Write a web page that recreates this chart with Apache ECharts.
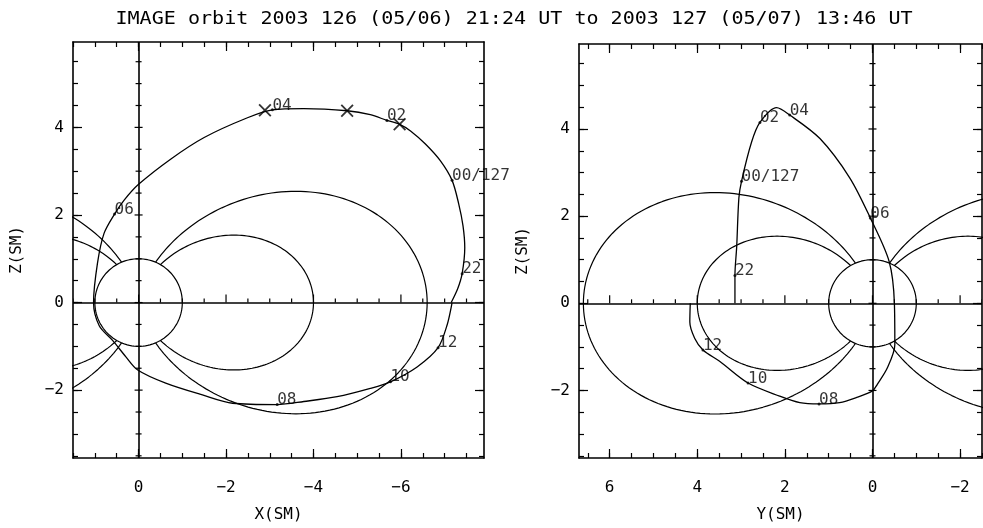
<!DOCTYPE html>
<html>
<head>
<meta charset="utf-8">
<title>IMAGE orbit</title>
<style>
  html, body { margin: 0; padding: 0; background: #fff; }
  #chart { width: 983px; height: 528px; }
</style>
</head>
<body>
<div id="chart"></div>
<script src="https://cdn.jsdelivr.net/npm/echarts@6/dist/echarts.min.js"></script>
<script>
// tick labels
var xTickLabels = [0, -2, -4, -6];
var yTickLabels = [6, 4, 2, 0, -2];
var zTickLabels = [-2, 0, 2, 4];

// dipole field line shells (L, in Earth radii)
var fieldShells = [4, 6.6];

// hour marks along the orbit
var hourLabels = ['22', '00/127', '02', '04', '06', '08', '10', '12'];
var hourXZ = [[-7.40, 0.66], [-7.17, 2.79], [-5.68, 4.16], [-3.06, 4.40],
              [0.55, 2.02], [-3.17, -2.33], [-5.76, -1.81], [-6.85, -1.03]];
var hourYZ = [[3.14, 0.64], [2.99, 2.80], [2.57, 4.15], [1.89, 4.32],
              [0.05, 1.96], [1.22, -2.31], [2.84, -1.83], [3.87, -1.07]];

// orbit track, 21:24 UT day 126 -> 13:46 UT day 127
var orbitXZ = [
  [-7.15, 0.00], [-7.30, 0.32], [-7.40, 0.66], [-7.46, 1.25], [-7.42, 1.75],
  [-7.32, 2.26], [-7.17, 2.79], [-6.90, 3.24], [-6.56, 3.62], [-6.22, 3.92],
  [-5.97, 4.07], [-5.68, 4.16], [-5.30, 4.29], [-4.77, 4.38], [-3.78, 4.43],
  [-3.06, 4.40], [-2.49, 4.22], [-1.50, 3.77], [-0.74, 3.28], [0.00, 2.70],
  [0.33, 2.34], [0.55, 2.02], [0.79, 1.58], [0.94, 0.90], [1.03, 0.00],
  [0.90, -0.53], [0.59, -0.87], [0.29, -1.24], [0.02, -1.54], [-0.62, -1.84],
  [-1.46, -2.11], [-2.15, -2.30], [-3.17, -2.33], [-3.78, -2.26], [-4.54, -2.15],
  [-5.30, -1.96], [-5.76, -1.81], [-6.37, -1.47], [-6.85, -1.03], [-7.06, -0.50],
  [-7.17, 0.00]
];
var orbitYZ = [
  [3.14, 0.00], [3.14, 0.64], [3.10, 1.30], [3.05, 2.42], [2.99, 2.80],
  [2.76, 3.70], [2.57, 4.15], [2.19, 4.49], [1.89, 4.32], [1.20, 3.78],
  [0.52, 2.88], [0.05, 1.96], [-0.38, 0.96], [-0.50, 0.00], [-0.51, -0.95],
  [-0.34, -1.48], [-0.11, -1.86], [0.00, -2.01], [0.36, -2.16], [0.75, -2.28],
  [1.22, -2.31], [1.66, -2.28], [2.12, -2.13], [2.84, -1.83], [3.49, -1.33],
  [3.87, -1.07], [4.06, -0.80], [4.17, -0.43], [4.16, 0.00]
];

// image markers (X-Z view only)
var markerXZ = [[-2.89, 4.39], [-4.77, 4.38], [-5.97, 4.07]];

var FONT = 'DejaVu Sans Mono';
var INK = '#000';

function steps(a, b, s) {
  var out = [];
  for (var v = a; v <= b + 1e-9; v += s) out.push(Math.round(v * 100) / 100);
  return out;
}
function minus(v) { return String(v).replace('-', '\u2212'); }

// dipole line r = L cos^2(lat), from footpoint to footpoint
function fieldLine(L, side) {
  var lat0 = Math.acos(Math.sqrt(1 / L));
  var pts = [];
  for (var i = 0; i <= 160; i++) {
    var lat = -lat0 + 2 * lat0 * i / 160;
    var c = Math.cos(lat), r = L * c * c;
    pts.push([side * r * c, r * Math.sin(lat)]);
  }
  return pts;
}
function earth() {
  var pts = [];
  for (var i = 0; i <= 120; i++) {
    var a = 2 * Math.PI * i / 120;
    pts.push([Math.cos(a), Math.sin(a)]);
  }
  return pts;
}

var xAxes = [], yAxes = [], series = [];

// frame axes: bottom/left with labels, top/right; major + minor ticks
function addAxes(list, dim, grid, cfg) {
  var base = list.length;
  var near = dim === 'x' ? 'bottom' : 'left';
  var far = dim === 'x' ? 'top' : 'right';
  function ax(position, ticks, len, opt) {
    var a = {
      type: 'value', gridIndex: grid, min: cfg.min, max: cfg.max, inverse: cfg.inverse,
      position: position, splitLine: { show: false },
      axisLine: { show: !!opt.line, onZero: false, lineStyle: { color: INK, width: 1.6 } },
      axisTick: { show: true, inside: true, length: len, customValues: ticks,
                  lineStyle: { color: INK, width: 1.2 } },
      axisLabel: { show: false }
    };
    if (opt.labels) {
      a.axisLabel = { show: true, customValues: cfg.labels, formatter: minus,
                      margin: dim === 'x' ? 22 : 9, fontFamily: FONT, fontSize: 16, color: INK };
      a.name = cfg.name;
      a.nameLocation = 'middle';
      a.nameGap = cfg.nameGap;
      a.nameTextStyle = { fontFamily: FONT, fontSize: 16, color: INK };
    }
    return a;
  }
  list.push(ax(near, cfg.labels, 9, { line: true, labels: true }));
  list.push(ax(near, cfg.minor, 5, {}));
  list.push(ax(far, cfg.labels, 9, { line: true }));
  list.push(ax(far, cfg.minor, 5, {}));
  return base;
}

// lines through the origin with their own small ticks
function zeroTicks(xi, yi, hCfg, zCfg) {
  var hData = hCfg.minor.map(function (v) { return [v, 0, hCfg.labels.indexOf(v) >= 0 ? 8 : 4, 0]; });
  var vData = zCfg.minor.map(function (v) { return [0, v, zCfg.labels.indexOf(v) >= 0 ? 4 : 3, 1]; });
  series.push({
    type: 'custom', xAxisIndex: xi, yAxisIndex: yi, silent: true, clip: true,
    data: hData.concat(vData),
    renderItem: function (params, api) {
      var p = api.coord([api.value(0), api.value(1)]);
      var len = api.value(2);
      var shape = api.value(3) === 0
        ? { x1: p[0], y1: p[1], x2: p[0], y2: p[1] - len }
        : { x1: p[0] - len, y1: p[1], x2: p[0] + len, y2: p[1] };
      return { type: 'line', shape: shape, style: { stroke: INK, lineWidth: 1.2 } };
    },
    markLine: {
      symbol: 'none', silent: true, label: { show: false },
      lineStyle: { color: INK, width: 1.6, type: 'solid' },
      data: [{ xAxis: 0 }, { yAxis: 0 }]
    }
  });
}

function addPanel(grid, hCfg, orbit, hours, markers) {
  var xi = xAxes.length, yi = yAxes.length;
  var zCfg = { min: -3.55, max: 5.95, inverse: false, labels: zTickLabels,
               minor: steps(-3.5, 5.95, 0.5), name: 'Z(SM)', nameGap: 48 };
  addAxes(xAxes, 'x', grid, hCfg);
  addAxes(yAxes, 'y', grid, zCfg);
  zeroTicks(xi, yi, hCfg, zCfg);

  var line = { color: INK, width: 1.2 };
  fieldShells.forEach(function (L) {
    [1, -1].forEach(function (side) {
      series.push({ type: 'line', xAxisIndex: xi, yAxisIndex: yi, data: fieldLine(L, side),
                    showSymbol: false, symbol: 'none', lineStyle: line, silent: true, clip: true });
    });
  });
  series.push({ type: 'line', xAxisIndex: xi, yAxisIndex: yi, data: earth(),
                symbol: 'none', lineStyle: line, silent: true, clip: true });
  series.push({ type: 'line', xAxisIndex: xi, yAxisIndex: yi, data: orbit, smooth: 0.3,
                symbol: 'none', lineStyle: { color: INK, width: 1.3 }, silent: true, clip: true });
  series.push({
    type: 'scatter', xAxisIndex: xi, yAxisIndex: yi, symbolSize: 3, silent: true,
    itemStyle: { color: INK },
    data: hours.map(function (p, i) { return { value: p, name: hourLabels[i] }; }),
    label: { show: true, formatter: '{b}', position: [1.5, 5], align: 'left',
             verticalAlign: 'bottom', fontFamily: FONT, fontSize: 16, color: INK }
  });
  if (markers) {
    series.push({
      type: 'scatter', xAxisIndex: xi, yAxisIndex: yi, symbolSize: 13, silent: true,
      symbol: 'path://M0,1L1,0L5,4L9,0L10,1L6,5L10,9L9,10L5,6L1,10L0,9L4,5Z',
      itemStyle: { color: INK }, data: markers
    });
  }
}

addPanel(0, { min: -7.9, max: 1.5, inverse: true, labels: xTickLabels,
              minor: steps(-7.5, 1.5, 0.5), name: 'X(SM)', nameGap: 49 },
         orbitXZ, hourXZ, markerXZ);
addPanel(1, { min: -2.5, max: 6.7, inverse: true, labels: yTickLabels,
              minor: steps(-2.5, 6.7, 0.5), name: 'Y(SM)', nameGap: 49 },
         orbitYZ, hourYZ, null);

var chart = echarts.init(document.getElementById('chart'));
chart.setOption({
  animation: false,
  backgroundColor: '#fff',
  graphic: [{
    type: 'text', x: 514, y: 20, scaleX: 1.18, silent: true,
    style: {
      text: 'IMAGE orbit 2003 126 (05/06) 21:24 UT to 2003 127 (05/07) 13:46 UT',
      font: '17px "DejaVu Sans Mono"', fill: INK, align: 'center', verticalAlign: 'middle'
    }
  }],
  grid: [
    { left: 73, top: 42, width: 411, height: 422 },
    { left: 579, top: 44, width: 403, height: 421 }
  ],
  xAxis: xAxes,
  yAxis: yAxes,
  series: series
});
</script>
</body>
</html>
